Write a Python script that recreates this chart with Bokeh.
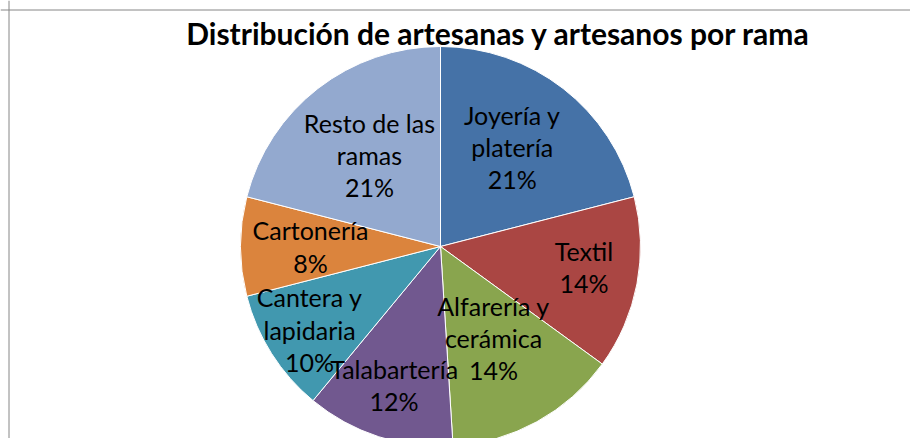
import numpy as np
from bokeh.plotting import figure
from bokeh.models import Range1d, Span, ColumnDataSource
from bokeh.core.properties import value
from bokeh.embed import file_html
from bokeh.resources import INLINE

# ---- data ----
title = "Distribución de artesanas y artesanos por rama"
categories = ["Joyería y\nplatería", "Textil", "Alfarería y\ncerámica", "Talabartería",
              "Cantera y\nlapidaria", "Cartonería", "Resto de las\nramas"]
values = [21, 14, 14, 12, 10, 8, 21]
colors = ["#4572A7", "#AA4643", "#89A54E", "#71588F", "#4198AF", "#DB843D", "#93A9CF"]

# ---- layout ----
label_r = [0.585, 0.73, 0.55, 0.75, 0.775, 0.65, 0.58]   # label distance, fraction of radius
label_dy = [7, 7, 5, 4, 0, 0, 0]                          # small upward nudges, px
W, H = 910, 438
cx, cy, R = 440, H - 246, 200

vals = np.array(values, dtype=float)
frac = vals / vals.sum()
cum = np.concatenate([[0], np.cumsum(frac)])
start = np.pi / 2 - 2 * np.pi * cum[:-1]
end = np.pi / 2 - 2 * np.pi * cum[1:]
mid = (start + end) / 2
lr = np.array(label_r) * R
lx = cx + lr * np.cos(mid)
ly = cy + lr * np.sin(mid) + np.array(label_dy)
labels = [f"{c}\n{v}%" for c, v in zip(categories, values)]

src = ColumnDataSource(dict(start=start, end=end, color=colors, lx=lx, ly=ly, label=labels))

p = figure(width=W, height=H, output_backend="svg", toolbar_location=None,
           x_range=Range1d(0, W), y_range=Range1d(0, H),
           min_border=0, outline_line_color=None, background_fill_color="white")
p.axis.visible = False
p.grid.visible = False

p.wedge(x=cx, y=cy, radius=R, start_angle="start", end_angle="end", direction="clock",
        fill_color="color", line_color="white", line_width=1, source=src)

p.text(x="lx", y="ly", text="label", source=src, text_align="center", text_baseline="middle",
       text_font=value("Lato"), text_font_size="25px", text_line_height=1.07, text_color="black")

p.text(x=[498], y=[H - 32], text=[title], text_align="center", text_baseline="middle",
       text_font=value("Lato"), text_font_style="bold", text_font_size="30px", text_color="black")

p.add_layout(Span(location=8.5, dimension="height", line_color="#868686", line_width=1))
p.add_layout(Span(location=H - 9.5, dimension="width", line_color="#868686", line_width=1))

open("out.html", "w").write(file_html(p, INLINE))
